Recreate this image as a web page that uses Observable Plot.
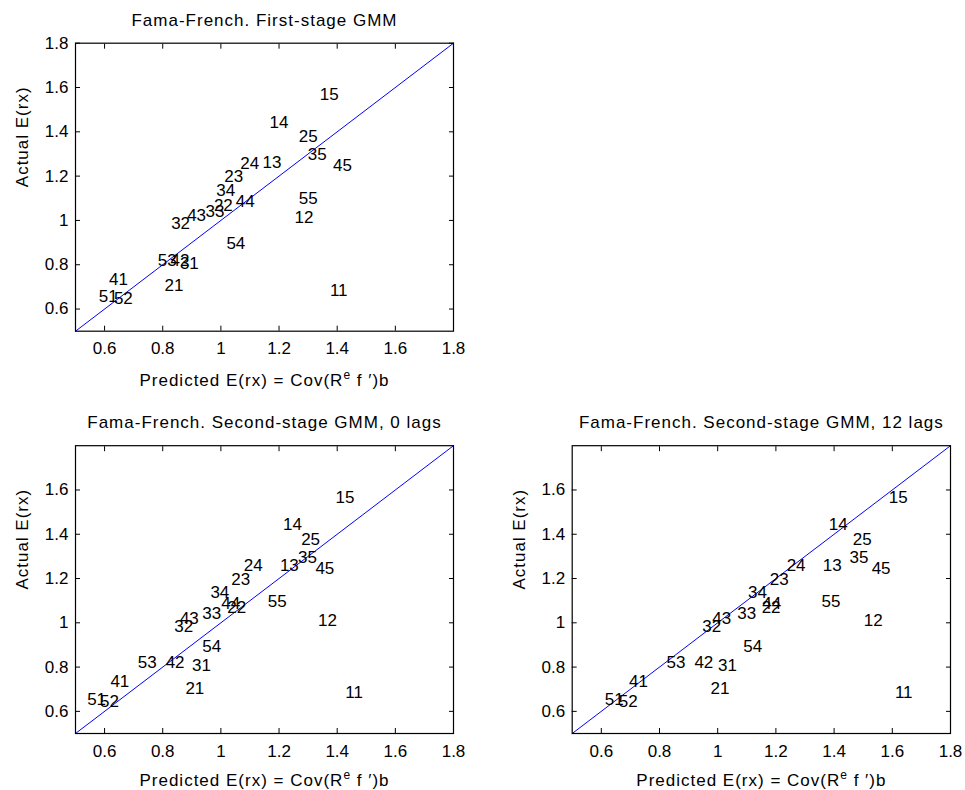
<!DOCTYPE html>
<html><head><meta charset="utf-8">
<script src="https://cdn.jsdelivr.net/npm/d3@7"></script>
<script src="https://cdn.jsdelivr.net/npm/@observablehq/plot@0.6"></script>
<style>
body{margin:0;background:#fff;}
#wrap{position:relative;width:965px;height:790px;background:#fff;overflow:hidden;}
#wrap svg{position:absolute;}
</style></head><body><div id="wrap"></div>
<script>
// Portfolio labels (size quintile, book-to-market quintile)
const portfolios = ["11","12","13","14","15","21","22","23","24","25","31","32","33","34","35","41","42","43","44","45","51","52","53","54","55"];
// Actual mean excess returns (y)
const actual = [0.683,1.011,1.260,1.443,1.568,0.704,1.067,1.197,1.259,1.378,0.805,0.985,1.041,1.135,1.296,0.733,0.821,1.021,1.085,1.247,0.655,0.646,0.821,0.894,1.098];
// Predicted E(rx), first-stage GMM
const predFirst = [1.375,1.253,1.143,1.167,1.340,0.806,0.976,1.012,1.067,1.268,0.859,0.829,0.947,0.984,1.299,0.615,0.827,0.884,1.051,1.386,0.580,0.632,0.783,1.019,1.268];
// Predicted E(rx), second-stage GMM, 0 lags
const predSecond0 = [1.428,1.334,1.203,1.214,1.394,0.878,1.022,1.036,1.079,1.276,0.901,0.840,0.936,0.964,1.265,0.620,0.810,0.859,1.001,1.325,0.540,0.584,0.714,0.936,1.161];
// Predicted E(rx), second-stage GMM, 12 lags
const predSecond12 = [1.609,1.502,1.361,1.382,1.588,0.975,1.151,1.179,1.237,1.464,1.001,0.947,1.067,1.104,1.453,0.695,0.920,0.981,1.153,1.529,0.612,0.660,0.824,1.088,1.357];

const axisDomain = [0.5, 1.8];
const diagonal = [[0.5, 0.5], [1.8, 1.8]];
const xTicks = [0.6, 0.8, 1.0, 1.2, 1.4, 1.6, 1.8];
const yTicksTop = [0.6, 0.8, 1.0, 1.2, 1.4, 1.6, 1.8];
const yTicksBottom = [0.6, 0.8, 1.0, 1.2, 1.4, 1.6];
const titles = ["Fama-French. First-stage GMM", "Fama-French. Second-stage GMM, 0 lags", "Fama-French. Second-stage GMM, 12 lags"];
const xLabel = "Predicted E(rx) = Cov(Re f \u2032)b";
const yLabel = "Actual E(rx)";

const FONT = "'Liberation Sans', Arial, Helvetica, sans-serif";
const fmt = d => String(+(+d).toFixed(1));

function panel({pred, title, yTicks, left, top, width, height, mL, mR, mT, mB, xlabDy}) {
  const data = portfolios.map((p, i) => ({label: p, x: pred[i], y: actual[i]}));
  const svg = Plot.plot({
    width, height,
    marginLeft: mL, marginRight: mR, marginTop: mT, marginBottom: mB,
    x: {domain: axisDomain},
    y: {domain: axisDomain},
    style: {fontFamily: FONT, fontSize: "17px", color: "black", background: "transparent", overflow: "visible"},
    marks: [
      Plot.line(diagonal, {x: d => d[0], y: d => d[1], stroke: "#0000ff", strokeWidth: 1}),
      Plot.text(data, {x: "x", y: "y", text: "label", textAnchor: "start", lineAnchor: "middle", fontSize: 17, fill: "black"}),
      Plot.axisX(xTicks, {anchor: "bottom", tickSize: -5, fill: "none", label: null}),
      Plot.axisX(xTicks, {anchor: "top", tickSize: -5, fill: "none", label: null}),
      Plot.axisY(yTicks, {anchor: "left", tickSize: -5, fill: "none", label: null}),
      Plot.axisY(yTicks, {anchor: "right", tickSize: -5, fill: "none", label: null}),
      Plot.axisX(xTicks, {anchor: "bottom", tickSize: 0, tickPadding: 11, label: null, tickFormat: fmt, fontSize: 17}),
      Plot.axisY(yTicks, {anchor: "left", tickSize: 0, tickPadding: 7, label: null, tickFormat: fmt, fontSize: 17}),
      Plot.frame({stroke: "black", strokeWidth: 1.2}),
      Plot.text([title], {frameAnchor: "top", lineAnchor: "bottom", dy: -17.5, fontSize: 17, fill: "black"}),
      Plot.text([xLabel], {frameAnchor: "bottom", lineAnchor: "bottom", dy: xlabDy, fontSize: 17, fill: "black"}),
      Plot.text([yLabel], {frameAnchor: "left", rotate: -90, dx: -53, fontSize: 17, fill: "black"})
    ]
  });
  svg.style.left = left + "px";
  svg.style.top = top + "px";
  const s = d3.select(svg);
  const texts = s.selectAll("text");
  // MATLAB-like letter spacing on title and axis labels
  texts.filter(function() { return this.textContent === title || this.textContent === yLabel; })
    .style("letter-spacing", "1px");
  texts.filter(function() { return this.textContent === xLabel; }).each(function() {
    const t = d3.select(this);
    t.text(null).style("letter-spacing", "1px");
    t.append("tspan").text("Predicted E(rx) = Cov(R");
    t.append("tspan").attr("dy", "-7").attr("font-size", "12px").text("e");
    t.append("tspan").attr("dy", "7").text(" f \u2032)b");
  });
  document.getElementById("wrap").appendChild(svg);
}

panel({pred: predFirst, title: titles[0], yTicks: yTicksTop, left: 0, top: 0, width: 480, height: 395, mL: 75, mR: 27, mT: 42.7, mB: 64.3, xlabDy: 55});
panel({pred: predSecond0, title: titles[1], yTicks: yTicksBottom, left: 0, top: 400, width: 480, height: 390, mL: 75, mR: 27, mT: 45.2, mB: 57, xlabDy: 52});
panel({pred: predSecond12, title: titles[2], yTicks: yTicksBottom, left: 490, top: 400, width: 475, height: 390, mL: 81.7, mR: 15, mT: 45.2, mB: 57, xlabDy: 52});
</script>
</body></html>
